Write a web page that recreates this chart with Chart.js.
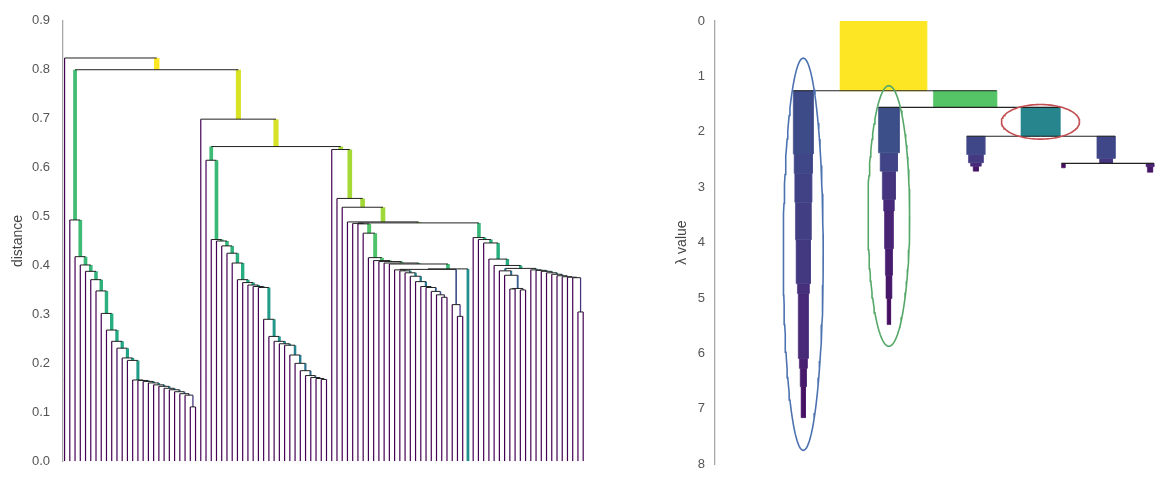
<!DOCTYPE html>
<html>
<head>
<meta charset="utf-8">
<script src="https://cdn.jsdelivr.net/npm/chart.js@4.4.1/dist/chart.umd.min.js"></script>
<style>
  html, body { margin: 0; padding: 0; background: #fff; }
  #wrap { position: relative; width: 1169px; height: 482px; overflow: hidden; }
  #dendro { position: absolute; left: 0; top: 0; }
  #condensed { position: absolute; left: 600px; top: 0; }
</style>
</head>
<body>
<div id="wrap">
  <canvas id="dendro" width="600" height="482"></canvas>
  <canvas id="condensed" width="569" height="482"></canvas>
</div>
<script>
// ---------- Datos: árbol de enlace simple (izquierda) ----------
// Cada "escalera" es una lista de alturas: en cada altura se une una hoja nueva
const hA   = [0.493, 0.418, 0.401, 0.388, 0.371, 0.348, 0.302, 0.268, 0.245, 0.231, 0.211, 0.206,
              0.166, 0.165, 0.163, 0.160, 0.156, 0.153, 0.149, 0.146, 0.142, 0.138, 0.135, 0.111];
const hB   = [0.453, 0.450, 0.440, 0.425, 0.405, 0.371, 0.365, 0.360, 0.357, 0.355, 0.290, 0.255,
              0.245, 0.240, 0.237, 0.217, 0.200, 0.185, 0.175, 0.171, 0.169, 0.167];
const hTop = [0.824, 0.800, 0.699, 0.643, 0.615];          // raíz y uniones altas
const hC   = [0.637, 0.537, 0.519, 0.489];
const hE   = [0.486, 0.485, 0.466];
const hE3  = [0.416, 0.410, 0.408, 0.405, 0.403];
const hE8a = [0.391, 0.389, 0.385, 0.378, 0.367, 0.357, 0.355, 0.347, 0.340, 0.335];
const hBlue = [0.320, 0.296];
const hMid = [0.487, 0.394, 0.393, 0.392];                // Y, G5, E7, E8
const hG   = [0.457, 0.453, 0.446, 0.413, 0.400];
const hG6  = [0.389, 0.380, 0.353, 0.352, 0.350];
const hG7  = [0.391, 0.390, 0.388, 0.385, 0.382, 0.379, 0.377, 0.376, 0.375, 0.305];
const leafHeavy = 10;   // hoja con 10 puntos repetidos

// ---------- Datos: árbol condensado (derecha) ----------
const clusterParent = [-1, 0, 0, 2, 2, 4, 4, 6, 6];
const clusterCenter = [194.2, 101.8, 288.4, 200.5, 375.4, 300.8, 451, 401.7, 501.7];
const clusterDeath  = [1.26, 7.16, 1.56, 5.48, 2.08, 2.71, 2.57, 2.65, 2.73];
const stepLambda = [[0], [1.26, 2.40, 2.75, 3.27, 3.95, 4.74, 4.92, 6.09, 6.27, 6.60], [1.26],
                    [1.56, 2.38, 2.71, 3.22, 3.43, 4.11, 4.59, 5.01], [1.56],
                    [2.08, 2.41, 2.56, 2.62], [2.08, 2.48], [2.57], [2.57, 2.63]];
const stepSize   = [[100], [23, 21, 19.5, 18, 16.5, 13.5, 11.5, 9, 7, 5], [73],
                    [24, 20, 15, 12, 10, 8, 6.5, 4], [45], [21, 17, 12, 6], [21, 15], [4], [9, 6]];
const selectedClusters = [1, 3, 4];
const selectionColors = ['#4c72b0', '#55a868', '#c44e52'];
const lambdaTicks = [0, 1, 2, 3, 4, 5, 6, 7, 8];

// ---------- Utilidades ----------
const viridisStops = ['#440154', '#482475', '#414487', '#355f8d', '#2a788e', '#21918c',
                      '#22a884', '#44bf70', '#7ad151', '#bddf26', '#fde725'];
function hexRgb(h) {
    return [1, 3, 5].map(i => parseInt(h.substr(i, 2), 16));
}
function viridis(t) {
    t = Math.min(1, Math.max(0, t));
    const p = t * 10, i = Math.min(9, Math.floor(p)), f = p - i;
    const a = hexRgb(viridisStops[i]), b = hexRgb(viridisStops[i + 1]);
    const c = a.map((v, k) => Math.round(v + (b[k] - v) * f));
    return `rgb(${c[0]},${c[1]},${c[2]})`;
}

// escalera: hoja + (hoja + (... + cola))
function chain(heights, tail) {
    let node = tail === undefined ? 1 : tail;
    for (let k = heights.length - 1; k >= 0; k--) node = [heights[k], 1, node];
    return node;
}

// Construir el árbol
const G6 = [hG6[0], 1, [hG6[1], 1, [hG6[2], [hG6[3], 1, 1], [hG6[4], 1, 1]]]];
const G = chain(hG, [hMid[1], G6, chain(hG7)]);
const blueSub = [hBlue[0], 1, [hBlue[1], 1, 1]];
const E7 = [hMid[2], [hMid[3], chain(hE8a), blueSub], leafHeavy];
const E = chain(hE, chain(hE3, E7));
const C = chain(hC, [hMid[0], E, G]);
const N0645 = [hTop[3], chain([hTop[4]], chain(hB)), C];
const tree = chain([hTop[0]], [hTop[1], chain(hA), chain([hTop[2]], N0645)]);

// Posiciones estilo scipy: hojas consecutivas, nodo en el punto medio
let slot = 0;
const legs = [], joins = [];
function layout(node) {
    if (!Array.isArray(node)) return { x: slot++, y: 0, size: node };
    const [h, l, r] = node;
    const a = layout(l), b = layout(r);
    legs.push({ x: a.x, y0: a.y, y1: h, size: a.size });
    legs.push({ x: b.x, y0: b.y, y1: h, size: b.size });
    joins.push({ x0: a.x, x1: b.x, y: h });
    return { x: (a.x + b.x) / 2, y: h, size: a.size + b.size };
}
layout(tree);

const maxLeg = Math.max(...legs.map(l => l.size));
const gap = { x: NaN, y: NaN };

// Agrupar las patas por tamaño (mismo color y grosor)
const groups = new Map();
legs.forEach(l => {
    if (!groups.has(l.size)) groups.set(l.size, []);
    const pts = groups.get(l.size);
    if (pts.length) pts.push(gap);
    pts.push({ x: l.x, y: l.y0 }, { x: l.x, y: l.y1 });
});

const dendroSets = [];
groups.forEach((pts, size) => {
    dendroSets.push({
        data: pts,
        borderColor: viridis(Math.log2(size) / Math.log2(maxLeg)),
        borderWidth: Math.max(1.2, 0.8 * Math.log2(1 + size)),
        borderCapStyle: 'butt',
        order: 1
    });
});
const joinPts = [];
joins.forEach(j => {
    if (joinPts.length) joinPts.push(gap);
    joinPts.push({ x: j.x0, y: j.y }, { x: j.x1, y: j.y });
});
dendroSets.push({ data: joinPts, borderColor: '#222', borderWidth: 1, borderCapStyle: 'butt', order: 0 });

const axisFont = { family: '"Liberation Sans", Arial, sans-serif', size: 13 };
const titleFont = { family: '"Liberation Sans", Arial, sans-serif', size: 14 };

new Chart(document.getElementById('dendro'), {
    type: 'line',
    data: { datasets: dendroSets },
    options: {
        responsive: false,
        animation: false,
        layout: { padding: { top: 18, bottom: 12, right: 10, left: 0 } },
        plugins: { legend: { display: false }, tooltip: { enabled: false } },
        elements: { point: { radius: 0, hoverRadius: 0 }, line: { tension: 0, fill: false } },
        scales: {
            x: { type: 'linear', min: -0.3, max: 100.3, display: false },
            y: {
                type: 'linear', min: 0, max: 0.9,
                ticks: { stepSize: 0.1, callback: v => v.toFixed(1), color: '#555', font: axisFont, padding: 13 },
                grid: { display: false, drawTicks: false },
                border: { display: true, color: '#a8a8a8', width: 1.3 },
                title: { display: true, text: 'distance', color: '#444', font: titleFont, padding: { top: 10, bottom: 0 } },
                afterFit: s => { s.width = 63; }
            }
        }
    }
});

// ---------- Árbol condensado ----------
const maxSize = Math.max(...stepSize.flat());
const condSets = [];

// rectángulos de cada carámbano
clusterCenter.forEach((cx, i) => {
    const lam = stepLambda[i], sz = stepSize[i];
    lam.forEach((l0, k) => {
        const l1 = k + 1 < lam.length ? lam[k + 1] : clusterDeath[i];
        const w = sz[k], col = viridis(w / maxSize);
        condSets.push({
            data: [{ x: cx - w / 2, y: l0 }, { x: cx + w / 2, y: l0 }, { x: cx + w / 2, y: l1 },
                   { x: cx - w / 2, y: l1 }, { x: cx - w / 2, y: l0 }],
            fill: 'shape', backgroundColor: col, borderColor: col, borderWidth: 0.6, order: 2
        });
    });
});

// líneas de división padre -> hijos
clusterParent.forEach((p, i) => {
    if (p < 0) return;
    const sign = Math.sign(clusterCenter[i] - clusterCenter[p]);
    const y = stepLambda[i][0];
    condSets.push({
        data: [{ x: clusterCenter[p], y }, { x: clusterCenter[i] + sign * stepSize[i][0] / 2, y }],
        borderColor: '#222', borderWidth: 1.1, borderCapStyle: 'butt', order: 1
    });
});

// elipses de los clusters seleccionados
selectedClusters.forEach((c, k) => {
    const w = stepSize[c][0], top = stepLambda[c][0], bot = clusterDeath[c];
    const cx = clusterCenter[c], cy = (top + bot) / 2, rx = w, ry = 0.6 * (bot - top);
    const pts = [];
    for (let a = 0; a <= 120; a++) {
        const t = a / 120 * 2 * Math.PI;
        pts.push({ x: cx + rx * Math.cos(t), y: cy + ry * Math.sin(t) });
    }
    condSets.push({ data: pts, borderColor: selectionColors[k], borderWidth: 1.6, order: 0 });
});

new Chart(document.getElementById('condensed'), {
    type: 'line',
    data: { datasets: condSets },
    options: {
        responsive: false,
        animation: false,
        layout: { padding: { top: 21, bottom: 15, right: 4, left: 0 } },
        plugins: { legend: { display: false }, tooltip: { enabled: false } },
        elements: { point: { radius: 0, hoverRadius: 0 }, line: { tension: 0, fill: false } },
        scales: {
            x: { type: 'linear', min: 0, max: 519, display: false },
            y: {
                type: 'linear', min: lambdaTicks[0], max: lambdaTicks[lambdaTicks.length - 1], reverse: true,
                afterBuildTicks: s => { s.ticks = lambdaTicks.map(v => ({ value: v })); },
                ticks: { color: '#555', font: axisFont, padding: 10 },
                grid: { display: false, drawTicks: false },
                border: { display: true, color: '#a8a8a8', width: 1.3 },
                title: { display: true, text: 'λ value', color: '#444', font: titleFont, padding: { top: 74, bottom: 0 } },
                afterFit: s => { s.width = 115; }
            }
        }
    }
});
</script>
</body>
</html>
